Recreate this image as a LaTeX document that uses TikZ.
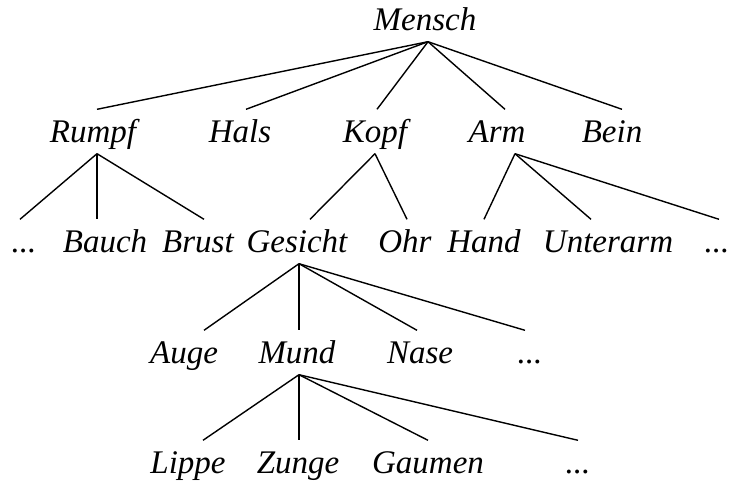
\documentclass[tikz,border=0pt]{standalone}
\usepackage{fontspec}
\setmainfont{Liberation Serif}
\usepackage{tikz}

\tikzset{word/.style={anchor=base,font=\fontsize{33}{38}\selectfont\itshape,
  text height=21pt,text depth=0pt,inner xsep=0pt,inner ysep=11pt}}

\begin{document}
\begin{tikzpicture}
[x=1pt,y=-1pt,line width=1.4pt]
\useasboundingbox (0,0) rectangle (735,482);
\node[word] (mensch) at (425,30) {Mensch};

\node[word] (rumpf) at (93,142) {Rumpf};
\node[word] (hals) at (240,142) {Hals};
\node[word] (kopf) at (375,142) {Kopf};
\node[word] (arm) at (497,142) {Arm};
\node[word] (bein) at (612,142) {Bein};

\node[word] (d1) at (24,252) {...};
\node[word] (bauch) at (105,252) {Bauch};
\node[word] (brust) at (198,252) {Brust};
\node[word] (gesicht) at (297,252) {Gesicht};
\node[word] (ohr) at (405,252) {Ohr};
\node[word] (hand) at (484,252) {Hand};
\node[word] (unterarm) at (608,252) {Unterarm};
\node[word] (d2) at (717,252) {...};

\node[word] (auge) at (184,363) {Auge};
\node[word] (mund) at (297,363) {Mund};
\node[word] (nase) at (420,363) {Nase};
\node[word] (d3) at (530,363) {...};

\node[word] (lippe) at (188,473) {Lippe};
\node[word] (zunge) at (298,473) {Zunge};
\node[word] (gaumen) at (428,473) {Gaumen};
\node[word] (d4) at (578,473) {...};

\foreach \from/\fx/\to/\tx in {mensch/3/rumpf/4,mensch/3/hals/6,mensch/3/kopf/2,mensch/3/arm/8,mensch/3/bein/10,
  rumpf/4/d1/-4,rumpf/4/bauch/-8,rumpf/4/brust/6,kopf/0/gesicht/13,kopf/0/ohr/2,
  arm/18/hand/0,arm/18/unterarm/-17,arm/18/d2/2,
  gesicht/2/auge/20,gesicht/2/mund/2,gesicht/2/nase/-3,gesicht/2/d3/-5,
  mund/2/lippe/15,mund/2/zunge/1,mund/2/gaumen/0,mund/2/d4/0}
\draw ([xshift=\fx pt]\from.south) -- ([xshift=\tx pt]\to.north);
\end{tikzpicture}
\end{document}
